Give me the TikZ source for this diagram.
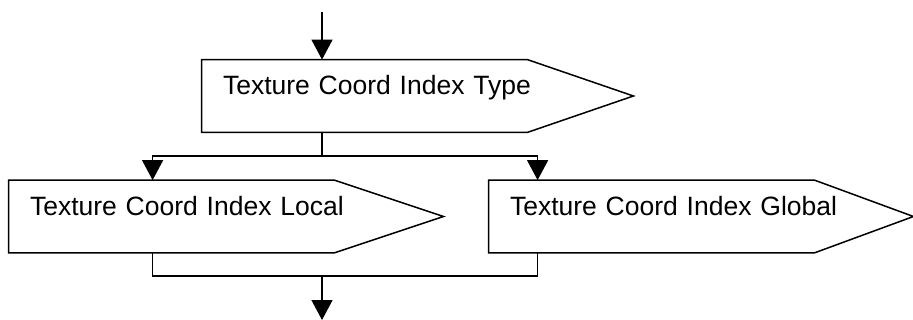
\documentclass[tikz,border=0pt]{standalone}
\usepackage{fontspec}
\setmainfont{Liberation Sans}
\usepackage{tikz}
\usetikzlibrary{arrows.meta, calc}
\tikzstyle{flowbox} = [rectangle, minimum height=36pt, text width=141.5pt, inner xsep=10.5pt,
                       text height=9.5pt, text depth=11pt, align=left, font=\fontsize{13.25}{16}\selectfont]
\tikzstyle{boxline} = [draw=black, line width=0.75pt]
\tikzstyle{connector} = [line width=0.75pt]
\tikzstyle{arrow} = [line width=0.75pt, -{Triangle[length=10pt, width=10.5pt]}]

\begin{document}
\begin{tikzpicture}[x=0.5pt, y=-0.5pt]
  \fill[white] (0,0) rectangle (913,320);
  \useasboundingbox (0,0) rectangle (913,320);

  \node (type) [flowbox] at (364.5,96) {\mbox{Texture Coord Index Type}};
  \node (local) [flowbox] at (171.5,216.5) {\mbox{Texture Coord Index Local}};
  \node (global) [flowbox] at (651.5,216.5) {\mbox{Texture Coord Index Global}};
  \foreach \n/\p in {type/106, local/109, global/99}
    \draw [boxline] (\n.north west) -- (\n.north east) -- ($(\n.east)+(\p,0)$)
      -- (\n.south east) -- (\n.south west) -- cycle;

  \coordinate (start) at (322,12);
  \coordinate (split) at (322,156);
  \coordinate (merge) at (322,276);
  \coordinate (end) at (322,320);

  \draw [arrow] (start) -- (start |- type.north);
  \draw [connector] (split |- type.south) -- (split);
  \draw [arrow] (split) -| ($(local.north west)+(144,0)$);
  \draw [arrow] (split) -| ($(global.north west)+(49,0)$);
  \draw [connector] ($(local.south west)+(144,0)$) |- (merge);
  \draw [connector] ($(global.south west)+(49,0)$) |- (merge);
  \draw [arrow] (merge) -- (end);
\end{tikzpicture}
\end{document}
